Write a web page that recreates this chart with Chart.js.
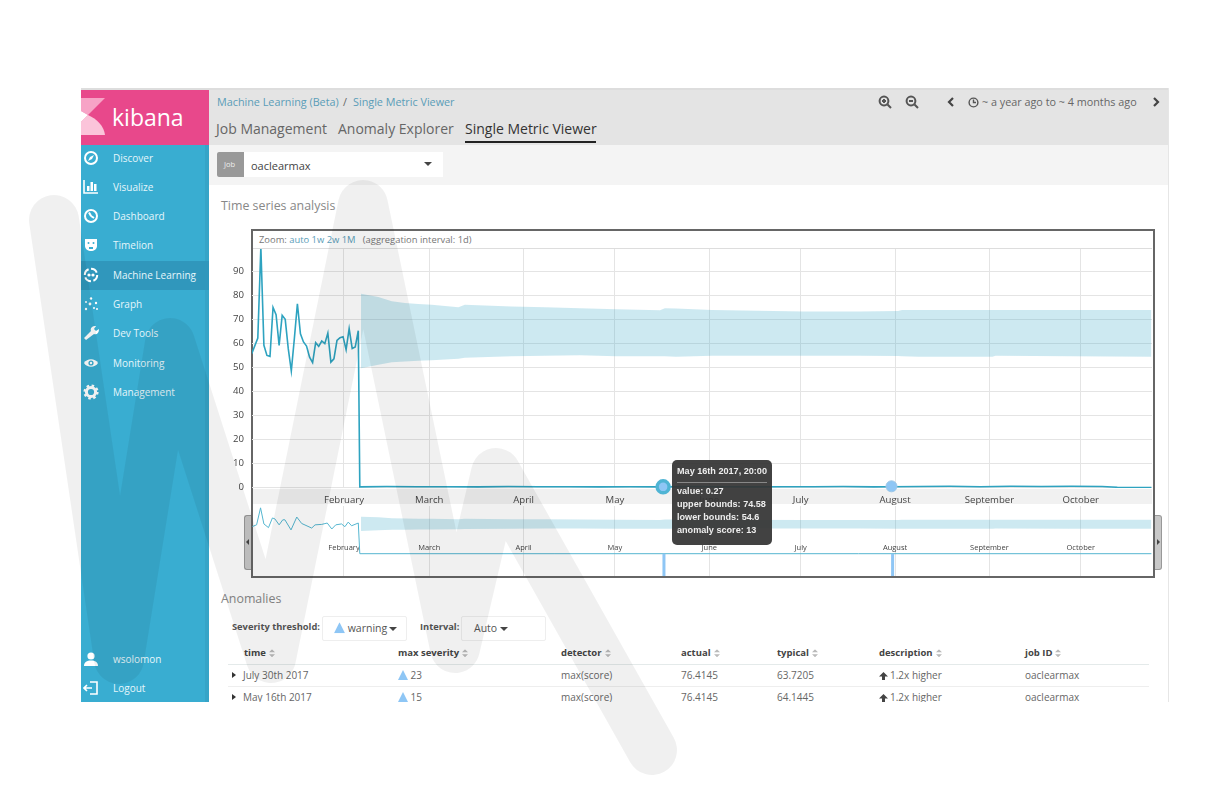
<!DOCTYPE html>
<html>
<head>
<meta charset="utf-8">
<title>Single Metric Viewer</title>
<script src="https://cdn.jsdelivr.net/npm/chart.js"></script>
<style>
html,body{margin:0;padding:0;background:#fff;width:1224px;height:792px;overflow:hidden;font-family:"Open Sans",sans-serif;color:#555}
.box{position:absolute}
.t{position:absolute;white-space:nowrap;line-height:1;transform:translateY(-50%)}
canvas{position:absolute;display:block}
.link{color:#5a9db8}
.nav{color:#e6f6fb;font-size:10px}
.hd{font-weight:700;font-size:9.5px;color:#444}
.cell{font-size:10px;color:#666}
</style>
</head>
<body>
<div id="page"></div>
<canvas id="mainChart" width="940" height="256" style="left:220px;top:249px"></canvas>
<canvas id="contextChart" width="900" height="70" style="left:252px;top:506px"></canvas>
<div class="box" id="tip" style="left:672px;top:460px;width:100px;height:85px;background:rgba(52,52,52,.93);border-radius:5px;font:bold 9.1px 'Liberation Sans',sans-serif;color:#eee">
  <div class="t" style="left:5px;top:12px">May 16th 2017, 20:00</div>
  <div class="box" style="left:5px;top:22px;width:90px;height:1px;background:#888"></div>
  <div class="t" style="left:5px;top:32px">value: 0.27</div>
  <div class="t" style="left:5px;top:45px">upper bounds: 74.58</div>
  <div class="t" style="left:5px;top:58px">lower bounds: 54.6</div>
  <div class="t" style="left:5px;top:71px">anomaly score: 13</div>
</div>
<svg class="box" style="left:0;top:0" width="1224" height="792">
  <polyline points="54,220 119,659 170,343 271,658 363,205 455,648 496,473 652,750" fill="none" stroke="#000" stroke-opacity=".06" stroke-width="50" stroke-linecap="round" stroke-linejoin="round"/>
</svg>
<script>
// month ticks, as day of year counted from Jan 1st
var monthDays = [31, 59, 90, 120, 151, 181, 212, 243, 273];
var monthNames = ['February', 'March', 'April', 'May', 'June', 'July', 'August', 'September', 'October'];

// metric line, main chart
var lineDays = [0.7, 2.7, 3.7, 4.7, 5.7, 6.7, 7.7, 8.7, 9.7, 10.7, 11.7, 12.7, 13.7, 14.7, 15.7, 16.7, 17.7, 18.7,
  19.7, 20.7, 21.7, 22.7, 23.7, 24.7, 25.7, 26.7, 27.7, 28.7, 29.7, 30.7, 31.7, 32.7, 33.7, 34.7, 35.7,
  36.2, 45, 55, 65, 75, 85, 95, 105, 115, 125, 135.83, 145, 155, 165, 175, 185, 195, 205, 210.83,
  220, 230, 240, 250, 260, 270, 280, 285, 296.2];
var lineValues = [55.7, 62.2, 100, 59.2, 55, 54.6, 75, 72, 59.2, 71.7, 70, 57.8, 48.5, 62, 76.5, 64, 60.6, 58.9,
  54.3, 52, 60.3, 58.8, 61, 59.9, 64.3, 52.2, 53.6, 61.2, 62.4, 62.8, 57.4, 66.1, 57.9, 58.5, 65.3,
  0.27, 0.4, 0.3, 0.35, 0.25, 0.4, 0.3, 0.35, 0.25, 0.3, 0.27, 0.4, 0.3, 0.25, 0.35, 0.3, 0.4, 0.25, 0.3,
  0.4, 0.5, 0.35, 0.5, 0.4, 0.5, 0.45, 0.1, 0];

// same metric as the overview draws it
var overviewDays = [0.9, 2.3, 3.6, 4.7, 6.2, 7.5, 8.3, 9.7, 10.9, 11.6, 13.6, 15.5, 17.1, 20.4, 21.5, 23.7, 25.5,
  27, 28.3, 30.2, 31.3, 32.4, 33.5, 35.7, 36.2, 100, 200, 296.2];
var overviewValues = [59.3, 63, 100, 65, 57, 78, 76, 63, 74, 74, 52, 80, 66, 56, 63, 64, 67,
  54, 63, 65, 59, 69, 61, 67, 0.3, 0.3, 0.3, 0.3];

// model bounds
var bandDays = [36.6, 42.3, 46.7, 51, 55.4, 59.8, 68.6, 70.7, 86, 97, 108.5, 120.4, 134.8, 136.4, 140, 151.9,
  182, 200.5, 213, 214.3, 220, 244, 245, 270, 296.2];
var bandUpper = [80.7, 79.3, 77.5, 76.8, 76.4, 76.1, 75.1, 76.1, 75.4, 75, 74.6, 74.2, 73.75, 74.6, 74.5, 73.9,
  73.3, 73.3, 73.5, 73.9, 73.9, 73.9, 73.9, 73.9, 73.9];
var bandLower = [49.7, 51.1, 52.2, 52.5, 52.8, 53, 53.6, 54, 54.6, 54.9, 55.1, 54.6, 54.7, 54.6, 54.4, 54.9,
  54.9, 54.9, 54.8, 54.7, 54.4, 54.4, 54.9, 54.6, 54.4];

// anomalies
var anomalyDays = [135.83, 210.83];
var anomalyValues = [0.27, 0.5];
var markerDays = [136.1, 211.2];

var navTop = [['Discover', 158], ['Visualize', 187], ['Dashboard', 216], ['Timelion', 245], ['Machine Learning', 275],
  ['Graph', 304], ['Dev Tools', 333], ['Monitoring', 363], ['Management', 392], ['wsolomon', 659], ['Logout', 688]];
var navIcons = {
  Discover: '<circle cx="8" cy="8" r="6" fill="none" stroke="#fff" stroke-width="2"/><path d="M11 5L9 9 5 11 7 7z" fill="#fff"/>',
  Visualize: '<path d="M1 1v13h14" fill="none" stroke="#fff" stroke-width="1.6"/><path d="M4 7h2.5v5H4zM7.5 3H10v9H7.5zM11 5h2.5v7H11z" fill="#fff"/>',
  Dashboard: '<circle cx="8" cy="8" r="6" fill="none" stroke="#fff" stroke-width="2"/><path d="M8 8L6 4.5M8 8l3 2" stroke="#fff" stroke-width="2"/>',
  Timelion: '<path d="M2 2h12v7c0 3-3 5-6 5s-6-2-6-5z" fill="#fff"/><circle cx="5.5" cy="6" r="1" fill="#39add1"/><circle cx="10.5" cy="6" r="1" fill="#39add1"/><path d="M6 10h4v2H6z" fill="#39add1"/>',
  'Machine Learning': '<circle cx="8" cy="8" r="6.2" fill="none" stroke="#fff" stroke-width="2" stroke-dasharray="7 2.5"/><circle cx="6" cy="8" r="1.6" fill="#fff"/><circle cx="10" cy="8" r="1.6" fill="#fff"/>',
  Graph: '<g fill="#fff"><circle cx="8" cy="2.5" r="1.2"/><circle cx="3" cy="6" r="1"/><circle cx="13" cy="7" r="1.2"/><circle cx="7" cy="8" r="1.4"/><circle cx="3" cy="13" r="1.2"/><circle cx="11" cy="12" r="1"/><circle cx="14" cy="13" r="1"/></g>',
  'Dev Tools': '<path d="M3 15l-2-2 7-7c-1-3 1-5 5-5l-2 3 2 2 3-2c0 4-2 6-5 5z" fill="#fff"/>',
  Monitoring: '<path d="M1 8c3-5 11-5 14 0-3 5-11 5-14 0z" fill="#fff"/><circle cx="8" cy="8" r="2.6" fill="#39add1"/><circle cx="8" cy="8" r="1.2" fill="#fff"/>',
  Management: '<circle cx="8" cy="8" r="4.6" fill="none" stroke="#fff" stroke-width="3"/><circle cx="8" cy="8" r="6.4" fill="none" stroke="#fff" stroke-width="2.4" stroke-dasharray="2.5 2.5"/>',
  wsolomon: '<circle cx="8" cy="5" r="3.6" fill="#fff"/><path d="M1 15c0-4 3-5.5 7-5.5s7 1.5 7 5.5z" fill="#fff"/>',
  Logout: '<path d="M7 2h7v12H7" fill="none" stroke="#fff" stroke-width="1.6"/><path d="M1 8h8M4 5L1 8l3 3" fill="none" stroke="#fff" stroke-width="1.6"/>'
};

function sortIcon() {
  return '<svg width="6" height="8" style="margin-left:3px;vertical-align:-1px"><path d="M3 0l3 3H0zM3 8L0 5h6z" fill="#bbb"/></svg>';
}
function warnIcon(size) {
  return '<svg width="' + size + '" height="' + size + '" style="vertical-align:-1px"><path d="M' + size / 2 + ' 0L' + size + ' ' + size + 'H0z" fill="#8ec6f5"/></svg>';
}
function caret(x, y, color) {
  return '<svg class="box" style="left:' + x + 'px;top:' + y + 'px" width="8" height="5"><path d="M0 0h8L4 4z" fill="' + (color || '#444') + '"/></svg>';
}
function text(x, y, s, style, cls) {
  return '<div class="t ' + (cls || '') + '" style="left:' + x + 'px;top:' + y + 'px;' + (style || '') + '">' + s + '</div>';
}
function rect(x, y, w, h, style) {
  return '<div class="box" style="left:' + x + 'px;top:' + y + 'px;width:' + w + 'px;height:' + h + 'px;' + style + '"></div>';
}

var upArrow = '<svg width="9" height="8" style="vertical-align:-1px;margin-right:2px"><path d="M4.5 0L9 4.5H6V8H3V4.5H0z" fill="#444"/></svg>';

var html = '';
// page frame
html += rect(81, 88, 1088, 2, 'background:#ddd');
html += rect(1168, 88, 1, 614, 'background:#e6e6e6');
// sidebar
html += rect(81, 90, 128, 612, 'background:#39add1');
html += rect(205, 145, 4, 557, 'background:#36a4c7');
html += rect(81, 90, 128, 55, 'background:#e8488b');
html += rect(81, 261, 128, 29, 'background:#3097bc');
html += '<svg class="box" style="left:81px;top:90px" width="30" height="55">' +
  '<path d="M0 8H24L7 25 0 21z" fill="#f7a3c6"/><path d="M0 45V32L7 25C16 29 23 36 24 45z" fill="#fbc4da"/><path d="M0 21L7 25 0 32z" fill="#fff"/></svg>';
html += text(112, 117, 'kibana', 'font-size:23px;color:#fff;');
navTop.forEach(function (n) {
  html += text(113, n[1], n[0], '', 'nav');
  html += '<svg class="box" style="left:83px;top:' + (n[1] - 8) + 'px" width="16" height="16">' + navIcons[n[0]] + '</svg>';
});
// top bars
html += rect(209, 90, 959, 55, 'background:#e4e4e4');
html += rect(209, 145, 959, 40, 'background:#f4f4f4');
html += text(217, 102, 'Machine Learning (Beta)', 'font-size:10.8px', 'link');
html += text(343, 102, '/', 'font-size:10.8px;color:#666');
html += text(353, 102, 'Single Metric Viewer', 'font-size:10.8px', 'link');
html += text(216, 129, 'Job Management', 'font-size:14px;color:#666');
html += text(338, 129, 'Anomaly Explorer', 'font-size:14px;color:#666');
html += text(465, 129, 'Single Metric Viewer', 'font-size:14px;color:#333');
html += rect(465, 141, 131, 2, 'background:#222');
html += '<svg class="box" style="left:878px;top:95px" width="42" height="14" fill="none" stroke="#555" stroke-width="2">' +
  '<circle cx="6" cy="6" r="4.4"/><path d="M9.5 9.5L13 13M4 6h4M6 4v4"/><circle cx="33" cy="6" r="4.4"/><path d="M36.5 9.5L40 13M31 6h4"/></svg>';
html += '<svg class="box" style="left:946px;top:97px" width="10" height="10" fill="none" stroke="#444" stroke-width="2.2"><path d="M7 1L3 5l4 4"/></svg>';
html += '<svg class="box" style="left:1151px;top:97px" width="10" height="10" fill="none" stroke="#444" stroke-width="2.2"><path d="M3 1l4 4-4 4"/></svg>';
html += '<svg class="box" style="left:968px;top:97px" width="11" height="11" fill="none" stroke="#555" stroke-width="1.4"><circle cx="5.5" cy="5.5" r="4.4"/><path d="M5.5 2.5v3h2.5"/></svg>';
html += text(982, 102, '~ a year ago to ~ 4 months ago', 'font-size:10.8px;color:#666');
// job picker
html += rect(217, 152, 226, 25, 'background:#fff');
html += rect(217, 152, 27, 25, 'background:#999;border-radius:2px 0 0 2px');
html += text(224, 165, 'Job', 'font-size:7.5px;color:#eee');
html += text(251, 165, 'oaclearmax', 'font-size:11px;color:#444');
html += caret(424, 162);
html += text(221, 206, 'Time series analysis', 'font-size:12.4px;color:#888');
// chart frame and the strip behind the month labels
html += rect(251, 229, 900, 345, 'border:2px solid #666;background:transparent');
html += rect(253, 248, 899, 1, 'background:#ddd');
html += rect(253, 489, 899, 15, 'background:#f1f1f1');
html += text(259, 240, 'Zoom: <span class="link">auto 1w 2w 1M</span> &nbsp; (aggregation interval: 1d)', 'font-size:9.4px;color:#777');
// brush handles
html += rect(244, 515, 6, 53, 'background:#c8c8c8;border:1px solid #999;border-right:0;border-radius:3px 0 0 3px');
html += rect(1155, 515, 6, 53, 'background:#c8c8c8;border:1px solid #999;border-left:0;border-radius:0 3px 3px 0');
html += '<svg class="box" style="left:245px;top:539px" width="5" height="6"><path d="M4 0v6L1 3z" fill="#444"/></svg>';
html += '<svg class="box" style="left:1156px;top:539px" width="5" height="6"><path d="M1 0v6l3-3z" fill="#444"/></svg>';
// anomalies table
html += text(221, 599, 'Anomalies', 'font-size:12.4px;color:#888');
html += text(232, 627, 'Severity threshold:', 'font-size:9.3px;font-weight:700;color:#555');
html += rect(322, 616, 83, 23, 'border:1px solid #eee;background:#fff;border-radius:2px');
html += text(334, 628, warnIcon(11) + ' warning', 'font-size:10.5px;color:#555');
html += caret(389, 627);
html += text(420, 627, 'Interval:', 'font-size:9.3px;font-weight:700;color:#555');
html += rect(461, 616, 83, 23, 'border:1px solid #eee;background:#fff;border-radius:2px');
html += text(474, 628, 'Auto', 'font-size:10.5px;color:#555');
html += caret(500, 627);
[['time', 244], ['max severity', 398], ['detector', 561], ['actual', 681], ['typical', 777], ['description', 879], ['job ID', 1025]].forEach(function (h) {
  html += text(h[1], 653, h[0] + sortIcon(), '', 'hd');
});
html += rect(228, 664, 921, 1, 'background:#e4eaea');
html += rect(228, 686, 921, 1, 'background:#eee');
[['July 30th 2017', '23', '63.7205', 675], ['May 16th 2017', '15', '64.1445', 697]].forEach(function (r) {
  var y = r[3];
  html += '<svg class="box" style="left:232px;top:' + (y - 3) + 'px" width="4" height="6"><path d="M0 0l4 3-4 3z" fill="#333"/></svg>';
  html += text(243, y, r[0], '', 'cell');
  html += text(398, y, warnIcon(10) + ' ' + r[1], '', 'cell');
  html += text(561, y, 'max(score)', '', 'cell');
  html += text(681, y, '76.4145', '', 'cell');
  html += text(777, y, r[2], '', 'cell');
  html += text(879, y, upArrow + '1.2x higher', '', 'cell');
  html += text(1025, y, 'oaclearmax', '', 'cell');
});
document.getElementById('page').innerHTML = html +
  '<style>#page{position:absolute;left:0;top:0;width:1224px;height:702px;overflow:hidden}</style>';

function points(xs, ys) {
  return xs.map(function (x, i) { return { x: x, y: ys[i] }; });
}

// the plot edges have to sit exactly inside the frame, so no label padding
function noPadding(s) {
  s.paddingTop = 0;
  s.paddingBottom = 0;
  s.paddingLeft = 0;
  s.paddingRight = 0;
}

var xMin = 0.79, xMax = 296.4;
function xAxis(font, padding, extra) {
  return Object.assign({
    type: 'linear',
    min: xMin,
    max: xMax,
    afterBuildTicks: function (axis) {
      axis.ticks = monthDays.map(function (d) { return { value: d }; });
    },
    grid: { color: '#e4e4e4', drawTicks: false },
    border: { display: false },
    ticks: {
      autoSkip: false,
      maxRotation: 0,
      padding: padding,
      color: '#444',
      font: { family: 'Open Sans', size: font },
      callback: function (v, i) { return monthNames[i]; }
    }
  }, extra || {});
}

var commonOptions = {
  responsive: false,
  animation: false,
  events: [],
  plugins: { legend: { display: false }, tooltip: { enabled: false } }
};

function bandSets() {
  return [{
    data: points(bandDays, bandUpper),
    borderWidth: 0,
    pointRadius: 0,
    backgroundColor: 'rgba(60,170,200,.26)',
    fill: '+1'
  }, {
    data: points(bandDays, bandLower),
    borderWidth: 0,
    pointRadius: 0,
    fill: false
  }];
}

new Chart(document.getElementById('mainChart'), {
  type: 'line',
  data: {
    datasets: [{
      data: points(anomalyDays, anomalyValues),
      showLine: false,
      clip: false,
      pointRadius: [6, 5.5],
      pointBorderWidth: [3.5, 1],
      pointBackgroundColor: '#8ec6f5',
      pointBorderColor: ['#4fb4d4', '#9cc6e6']
    }, {
      data: points(lineDays, lineValues),
      borderColor: '#2ea3c0',
      borderWidth: 1.6,
      pointRadius: 0,
      fill: false
    }].concat(bandSets())
  },
  options: Object.assign({}, commonOptions, {
    layout: { autoPadding: false, padding: { left: 0, right: 8, top: 0, bottom: 0 } },
    scales: {
      x: xAxis(9.6, 7, { afterFit: function (s) { s.height = 17; noPadding(s); } }),
      y: {
        min: -0.2,
        max: 99.3,
        afterFit: function (s) { s.width = 32; noPadding(s); },
        grid: { color: '#e4e4e4', drawTicks: false },
        border: { display: false },
        ticks: {
          stepSize: 10,
          includeBounds: false,
          padding: 8,
          color: '#444',
          font: { family: 'Open Sans', size: 9.6 }
        }
      }
    }
  })
});

new Chart(document.getElementById('contextChart'), {
  type: 'line',
  data: {
    datasets: markerDays.map(function (d) {
      return {
        data: points([d, d], [0, -50]),
        borderColor: '#8ec6f5',
        borderWidth: 3,
        pointRadius: 0,
        fill: false
      };
    }).concat([{
      data: points(overviewDays, overviewValues),
      borderColor: '#55b6d0',
      borderWidth: 1,
      pointRadius: 0,
      fill: false
    }]).concat(bandSets())
  },
  options: Object.assign({}, commonOptions, {
    layout: { autoPadding: false },
    scales: {
      x: xAxis(7.5, 3, { position: { y: 29 } }),
      y: { display: false, min: -48.2, max: 104 }
    }
  })
});
</script>
</body>
</html>
